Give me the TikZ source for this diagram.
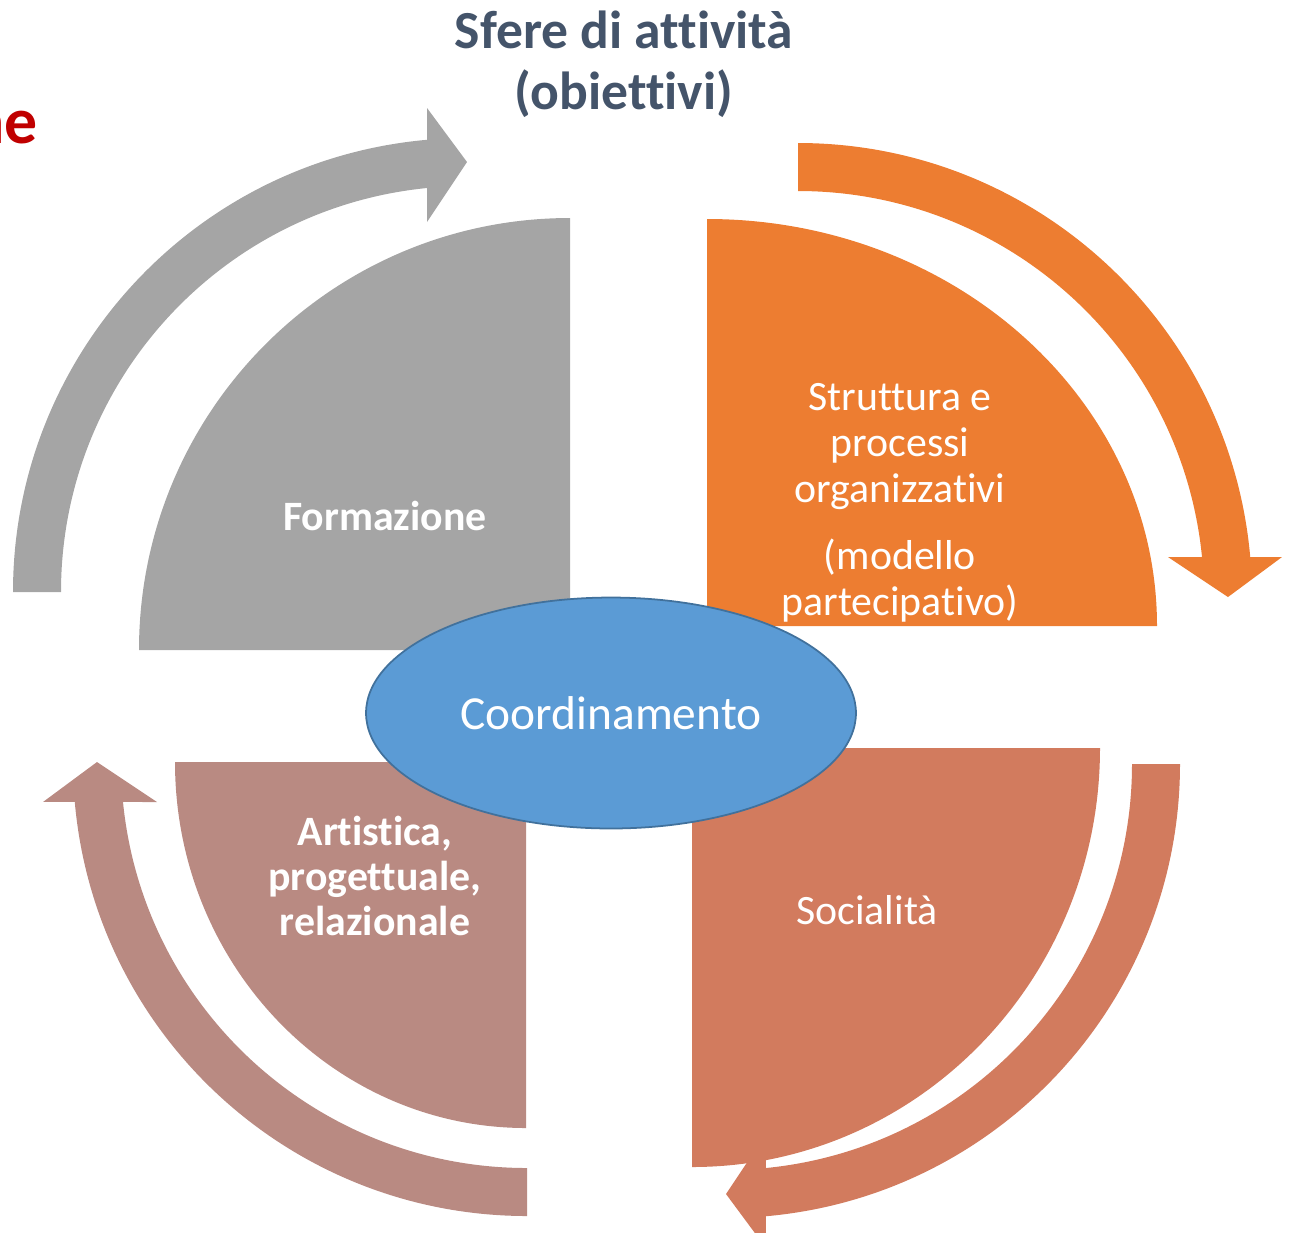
\documentclass[tikz,border=0pt]{standalone}
\usepackage{fontspec}
\setmainfont{Carlito}[Ligatures={NoCommon}]
\usetikzlibrary{shapes.geometric}

\definecolor{formgray}{HTML}{A5A5A5}
\definecolor{struorange}{HTML}{ED7D31}
\definecolor{socsalmon}{HTML}{D27B5E}
\definecolor{artrose}{HTML}{B98A82}
\definecolor{coordblue}{HTML}{5B9BD5}
\definecolor{coordedge}{HTML}{41719C}
\definecolor{titleslate}{HTML}{44546A}
\definecolor{deepred}{HTML}{C00000}

\begin{document}
\begin{tikzpicture}[x=0.02cm,y=-0.02cm,
  sectortext/.style={text=white,align=center,inner sep=0pt,font=\fontsize{23.8}{26.2}\selectfont},
  boldsector/.style={sectortext,font=\fontsize{23.8}{25.8}\selectfont\bfseries}]
\clip (0,0) rectangle (1294,1232);
% The circular arrows round the outside, one per quarter
\foreach \cx/\cy/\s/\col in {467/592/180/formgray, 798/597/270/struorange, 726/764/0/socsalmon, 527/762/90/artrose}{
  \begin{scope}[shift={(\cx,\cy)}]
    \fill[\col] (\s:454) arc[start angle=\s, end angle=\s+84.95, radius=454]
      -- (\s+85.28:485.65) -- (\s+90:430) -- (\s+83.83:372.16)
      -- (\s+84.35:406) arc[start angle=\s+84.35, end angle=\s, radius=406] -- cycle;
  \end{scope}
}
% Then the four quarter sectors
\fill[formgray] (570,650) -- (570,218) arc[start angle=270, end angle=180, x radius=431, y radius=432] -- cycle;
\fill[struorange] (707,626) -- (707,219) arc[start angle=270, end angle=360, x radius=450, y radius=407] -- cycle;
\fill[socsalmon] (692,748) -- (1100,748) arc[start angle=0, end angle=90, x radius=408, y radius=419] -- cycle;
\fill[artrose] (526,762) -- (526,1128) arc[start angle=90, end angle=180, x radius=351, y radius=366] -- cycle;
% Texts of the sectors
\node[boldsector] (form) at (385,516) {Formazione};
\node[sectortext] (stru) at (900,503) {Struttura e\\processi\\organizzativi\\[12pt](modello\\partecipativo)};
\node[sectortext] (soc) at (867,910) {Socialità};
\node[boldsector] (art) at (375,876) {Artistica,\\progettuale,\\relazionale};
% The ellipse in the middle
\node[ellipse, fill=coordblue, draw=coordedge, line width=1pt, minimum width=9.8cm, minimum height=4.62cm,
  inner sep=0pt, text=white, font=\fontsize{27}{30}\selectfont] (coord) at (611,713) {Coordinamento};
% Title, and the cut word on the left
\node[align=center, inner sep=0pt, text=titleslate, font=\fontsize{30.5}{35}\selectfont\bfseries] (title) at (624,64) {Sfere di attività\\(obiettivi)};
\node[anchor=base east, inner sep=0pt, text=deepred, font=\fontsize{37.4}{40}\selectfont\bfseries] (cutword) at (38,143) {ne};
\end{tikzpicture}
\end{document}
